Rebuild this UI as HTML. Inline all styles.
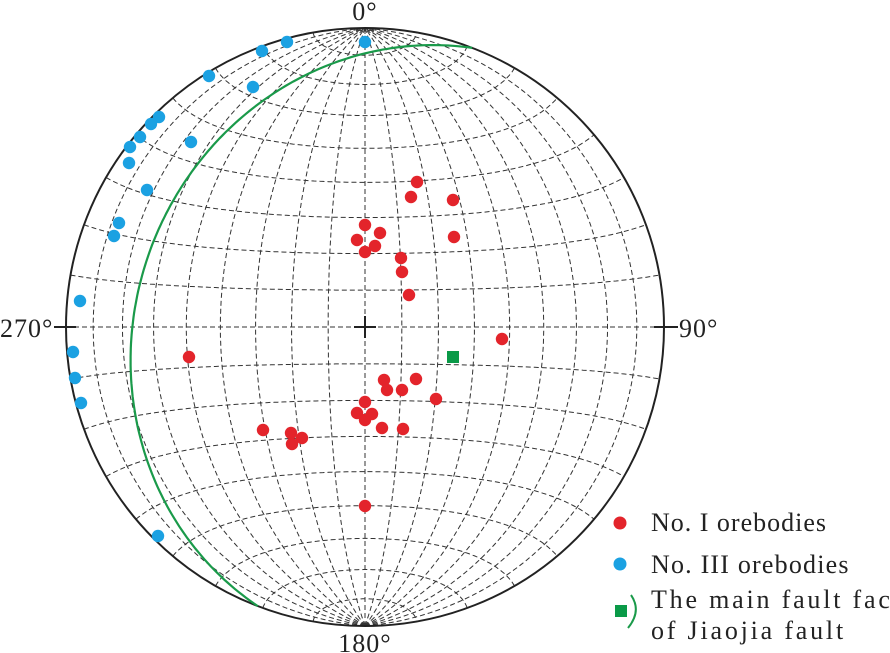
<!DOCTYPE html>
<html><head><meta charset="utf-8"><style>
html,body{margin:0;padding:0;background:#fff;}
svg{display:block;}
text{font-family:"Liberation Serif",serif;fill:#222;}
</style></head><body>
<svg id="s" width="890" height="653" viewBox="0 0 890 653" xmlns="http://www.w3.org/2000/svg">
<g id="grid" fill="none" stroke="#333" stroke-width="1" stroke-dasharray="5,3"></g>
<circle cx="365" cy="327" r="299" fill="none" stroke="#222" stroke-width="2"/>
<g stroke="#222" stroke-width="2">
<line x1="54" y1="327" x2="76" y2="327"/><line x1="654" y1="327" x2="678" y2="327"/>
<line x1="354" y1="327" x2="376" y2="327"/><line x1="365" y1="316" x2="365" y2="338"/>
</g>
<path id="fault" d="" fill="none" stroke="#1a9a4a" stroke-width="2.2"/>
<g id="pts"></g>
<rect x="447" y="351" width="12" height="12" fill="#0a9a48"/>
<text x="365" y="20" font-size="26" letter-spacing="1" text-anchor="middle">0°</text>
<text x="0" y="337" font-size="26" letter-spacing="1">270°</text>
<text x="679" y="337" font-size="26" letter-spacing="1">90°</text>
<text x="365" y="652" font-size="26" letter-spacing="1" text-anchor="middle">180°</text>
<circle cx="620" cy="523" r="6.5" fill="#e3242b"/>
<text x="651" y="531" font-size="26" letter-spacing="1">No. I orebodies</text>
<circle cx="620" cy="564" r="6.5" fill="#1ba1e2"/>
<text x="651" y="573" font-size="26" letter-spacing="1.2">No. III orebodies</text>
<rect x="615" y="605" width="12" height="12" fill="#0a9a48"/>
<path d="M631,595 Q642,611 628,628" fill="none" stroke="#1a9a4a" stroke-width="2"/>
<text x="651" y="608" font-size="26" letter-spacing="2.8">The main fault face</text>
<text x="651" y="639" font-size="26" letter-spacing="2.8">of Jiaojia fault</text>
</svg>
<script>
var cx=365,cy=327,R=299,d2r=Math.PI/180,g=document.getElementById('grid'),ns='http://www.w3.org/2000/svg';
function P(lam,phi){var l=lam*d2r,p=phi*d2r;var x=Math.cos(p)*Math.sin(l),y=Math.sin(p),z=Math.cos(p)*Math.cos(l);var k=1/Math.sqrt(1+z);return [cx+R*x*k,cy-R*y*k];}
function add(d){var e=document.createElementNS(ns,'path');e.setAttribute('d',d);g.appendChild(e);}
for(var lam=-80;lam<=80;lam+=10){var d='';for(var phi=-90;phi<=90;phi+=1){var q=P(lam,phi);d+=(phi==-90?'M':'L')+q[0].toFixed(1)+','+q[1].toFixed(1);}add(d);}
for(var phi=-80;phi<=80;phi+=10){var d='';for(var lam=-90;lam<=90;lam+=1){var q=P(lam,phi);d+=(lam==-90?'M':'L')+q[0].toFixed(1)+','+q[1].toFixed(1);}add(d);}
var sa=21*d2r,da=291*d2r,dp=24.7*d2r;
var S=[Math.sin(sa),Math.cos(sa),0],D=[Math.cos(dp)*Math.sin(da),Math.cos(dp)*Math.cos(da),Math.sin(dp)];
var fd='';
for(var t=0;t<=180;t+=1){var c=Math.cos(t*d2r),s=Math.sin(t*d2r);
var e=c*S[0]+s*D[0],n=c*S[1]+s*D[1],dd=c*S[2]+s*D[2];var k=1/Math.sqrt(1+Math.max(0,dd));
fd+=(t==0?'M':'L')+(cx+R*e*k).toFixed(1)+','+(cy-R*n*k).toFixed(1);}
document.getElementById('fault').setAttribute('d',fd);
var red=[[417,182],[411,197],[453,200],[454,237],[365,225],[380,233],[357,240],[375,246],[365,252],[401,258],[402,272],[409,295],[502,339],[189,357],[384,380],[416,379],[387,390],[402,390],[436,399],[365,402],[357,413],[372,414],[365,420],[382,428],[403,429],[263,430],[291,433],[302,438],[292,444],[365,506]];
var blue=[[287,42],[262,51],[365,42],[209,76],[253,87],[159,117],[151,124],[140,137],[130,147],[191,142],[129,163],[147,190],[119,223],[114,236],[80,301],[73,352],[75,378],[81,403],[158,536]];
var pg=document.getElementById('pts');
function dot(a,c){a.forEach(function(p){var e=document.createElementNS(ns,'circle');e.setAttribute('cx',p[0]);e.setAttribute('cy',p[1]);e.setAttribute('r',6.2);e.setAttribute('fill',c);pg.appendChild(e);});}
dot(red,'#e3242b');dot(blue,'#1ba1e2');
</script>
</body></html>
